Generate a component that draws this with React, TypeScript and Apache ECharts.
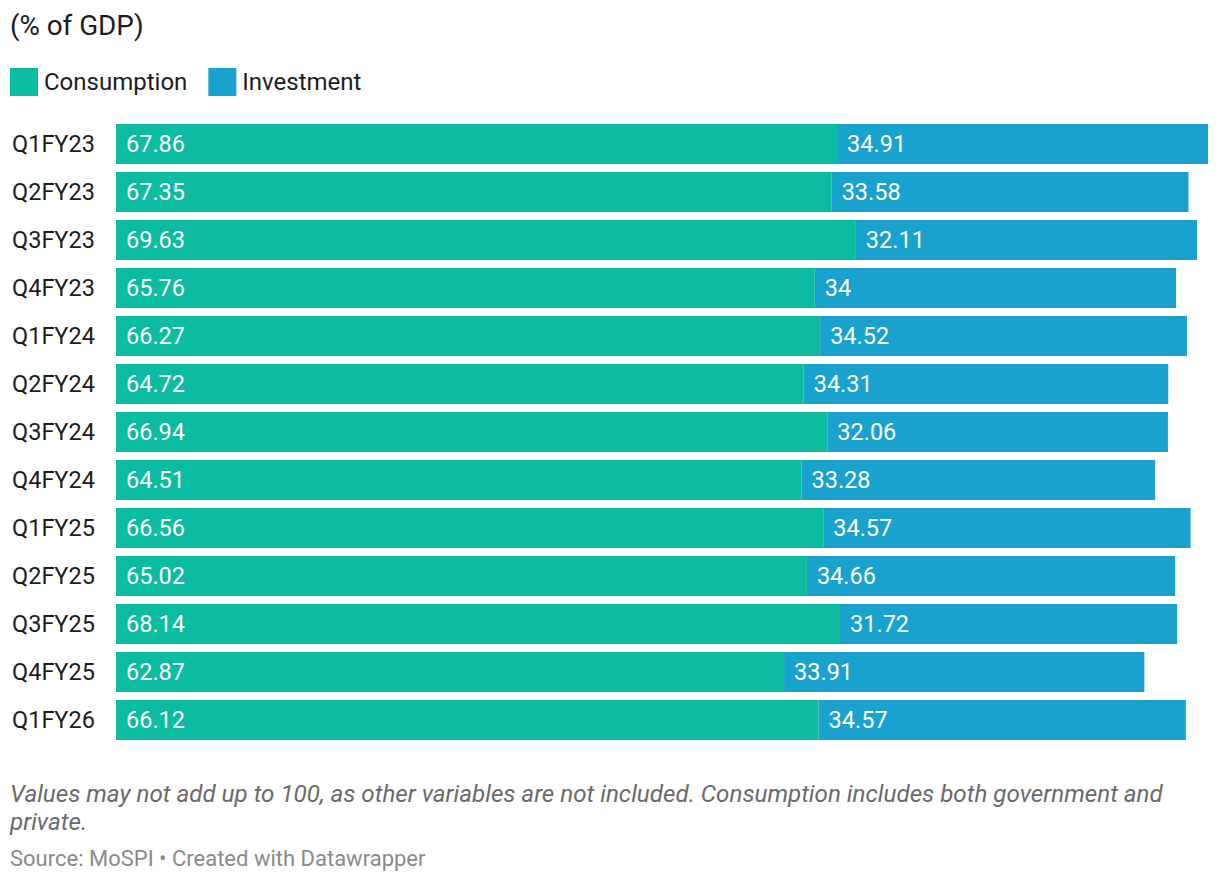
import React, { useEffect, useRef } from "react";
import * as echarts from "echarts";

const categories = [
  "Q1FY23", "Q2FY23", "Q3FY23", "Q4FY23", "Q1FY24", "Q2FY24", "Q3FY24",
  "Q4FY24", "Q1FY25", "Q2FY25", "Q3FY25", "Q4FY25", "Q1FY26",
];
const consumption = [67.86, 67.35, 69.63, 65.76, 66.27, 64.72, 66.94, 64.51, 66.56, 65.02, 68.14, 62.87, 66.12];
const investment = [34.91, 33.58, 32.11, 34, 34.52, 34.31, 32.06, 33.28, 34.57, 34.66, 31.72, 33.91, 34.57];

const GREEN = "#0bbca0";
const BLUE = "#1aa2ce";
const FONT = "Roboto, 'Noto Sans', sans-serif";

export default function App() {
  const ref = useRef<HTMLDivElement>(null);
  useEffect(() => {
    if (!ref.current) return;
    const chart = echarts.init(ref.current, undefined, { renderer: "svg" });
    const maxTotal = Math.max(...consumption.map((c, i) => c + investment[i]));
    const labelCfg = {
      show: true,
      position: "insideLeft" as const,
      distance: 10,
      color: "#ffffff",
      fontSize: 23.5,
      fontFamily: FONT,
    };
    chart.setOption({
      animation: false,
      textStyle: { fontFamily: FONT },
      title: {
        text: "(% of GDP)",
        left: 10,
        top: 11,
        padding: 0,
        textStyle: { fontSize: 27.8, fontWeight: "normal", color: "#1d1d1d", fontFamily: FONT },
      },
      legend: {
        left: 10,
        top: 68,
        padding: 0,
        icon: "rect",
        itemWidth: 28,
        itemHeight: 28,
        itemGap: 21,
        selectedMode: false,
        textStyle: { fontSize: 24, color: "#1d1d1d", fontFamily: FONT, padding: [0, 0, 0, 1] },
        data: ["Consumption", "Investment"],
      },
      grid: { left: 116, right: 12, top: 120, height: 624 },
      xAxis: {
        type: "value",
        min: 0,
        max: maxTotal,
        show: false,
      },
      yAxis: {
        type: "category",
        data: categories,
        inverse: true,
        axisLine: { show: false },
        axisTick: { show: false },
        splitLine: { show: false },
        axisLabel: {
          align: "left",
          margin: 104,
          fontSize: 23.5,
          color: "#1d1d1d",
          fontFamily: FONT,
          padding: [0, 0, 4, 0],
        },
      },
      series: [
        {
          name: "Consumption",
          type: "bar",
          stack: "total",
          data: consumption,
          barWidth: 40,
          itemStyle: { color: GREEN },
          label: { ...labelCfg, formatter: (p: any) => String(p.value) },
        },
        {
          name: "Investment",
          type: "bar",
          stack: "total",
          data: investment,
          barWidth: 40,
          itemStyle: { color: BLUE },
          label: { ...labelCfg, formatter: (p: any) => String(p.value) },
        },
      ],
      graphic: [
        {
          type: "text",
          left: 10,
          top: 782,
          style: {
            text: "Values may not add up to 100, as other variables are not included. Consumption includes both government and",
            font: `italic 24.2px ${FONT}`,
            fill: "#6a6a6a",
          },
        },
        {
          type: "text",
          left: 10,
          top: 810,
          style: {
            text: "private.",
            font: `italic 24.2px ${FONT}`,
            fill: "#6a6a6a",
          },
        },
        {
          type: "text",
          left: 10,
          top: 847,
          style: {
            text: "Source: MoSPI • Created with Datawrapper",
            font: `22px ${FONT}`,
            fill: "#8a8a8a",
          },
        },
      ],
    });
    return () => chart.dispose();
  }, []);
  return (
    <div
      ref={ref}
      style={{ position: "fixed", left: 0, top: 0, width: 1220, height: 882, background: "#fff" }}
    />
  );
}
